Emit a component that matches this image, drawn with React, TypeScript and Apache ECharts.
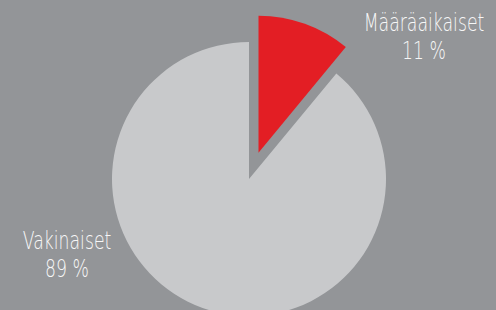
import React, { useEffect, useRef } from "react";
import * as echarts from "echarts";

const categories = ["Määräaikaiset", "Vakinaiset"];
const values = [11, 89];
const colors = ["#e31e24", "#c8c9cb"];
const labelPositions = [
  [424, 37],
  [67, 255],
];

export default function App() {
  const ref = useRef<HTMLDivElement>(null);
  useEffect(() => {
    if (!ref.current) return;
    const chart = echarts.init(ref.current, undefined, { renderer: "svg" });
    chart.setOption({
      animation: false,
      backgroundColor: "#939598",
      graphic: categories.map((name, i) => ({
        type: "text",
        x: labelPositions[i][0],
        y: labelPositions[i][1],
        scaleX: 0.72,
        silent: true,
        style: {
          text: `${name}\n${values[i]} %`,
          fill: "#f7f7f7",
          font: "200 24px 'DejaVu Sans', sans-serif",
          lineHeight: 28,
          align: "center",
          verticalAlign: "middle",
        },
      })),
      series: [
        {
          type: "pie",
          center: [249, 179],
          radius: 137,
          startAngle: 90,
          clockwise: true,
          selectedMode: "single",
          selectedOffset: 28,
          silent: true,
          emphasis: { disabled: true },
          labelLine: { show: false },
          label: { show: false },
          data: categories.map((name, i) => ({
            name,
            value: values[i],
            selected: i === 0,
            itemStyle: { color: colors[i] },
          })),
        },
      ],
    });
    return () => chart.dispose();
  }, []);
  return (
    <div
      ref={ref}
      style={{ position: "fixed", left: 0, top: 0, width: 496, height: 310 }}
    />
  );
}
